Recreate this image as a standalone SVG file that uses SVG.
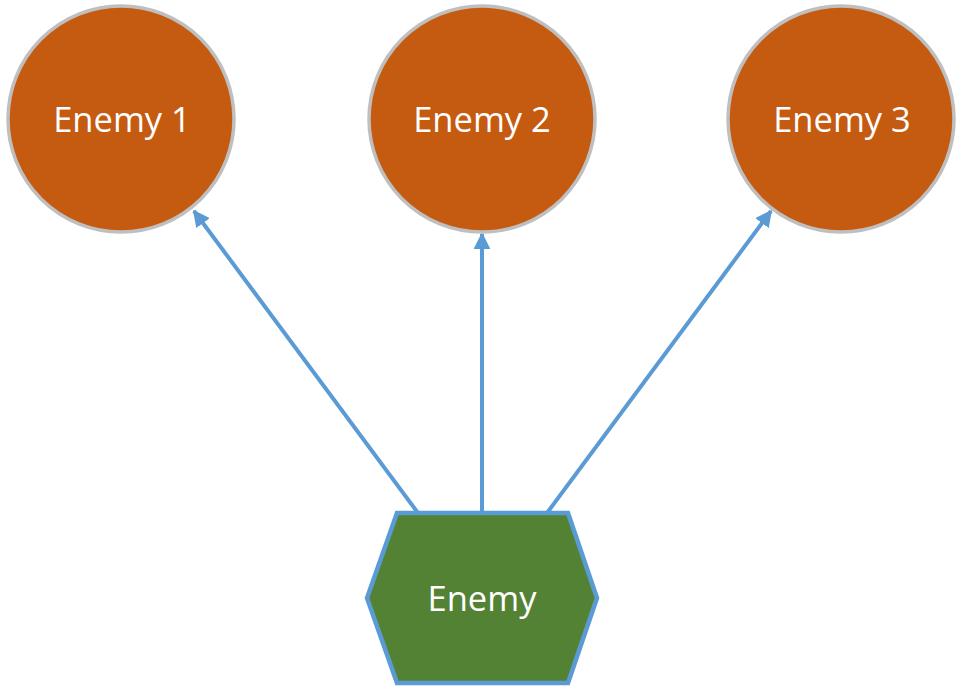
<svg xmlns="http://www.w3.org/2000/svg" width="966" height="696" viewBox="0 0 966 696">
<style>
.enemy{fill:#C55A11;stroke:#BFBFBF;stroke-width:3.5}
.hex{fill:#548235;stroke:#5B9BD5;stroke-width:4.5;stroke-linejoin:miter}
.lbl{font-family:"Open Sans","Liberation Sans",sans-serif;font-size:34.5px;fill:#FFFFFF;text-anchor:middle}
.conn{stroke:#5B9BD5;stroke-width:4;fill:none;marker-end:url(#arr)}
</style>
<defs>
<marker id="arr" viewBox="0 0 10 10" refX="9" refY="5" markerWidth="4.2" markerHeight="4.2" orient="auto" markerUnits="strokeWidth">
<path d="M0,0 L10,5 L0,10 z" fill="#5B9BD5"/>
</marker>
</defs>
<rect width="966" height="696" fill="#FFFFFF"/>
<g id="connectors">
<line class="conn" x1="418" y1="513" x2="194" y2="211"/>
<line class="conn" x1="482" y1="513" x2="482" y2="234"/>
<line class="conn" x1="547" y1="513" x2="771" y2="211"/>
</g>
<g id="enemy1">
<circle class="enemy" cx="121" cy="119" r="113"/>
<text class="lbl" x="122" y="132">Enemy 1</text>
</g>
<g id="enemy2">
<circle class="enemy" cx="482" cy="119" r="113"/>
<text class="lbl" x="482" y="132">Enemy 2</text>
</g>
<g id="enemy3">
<circle class="enemy" cx="841" cy="119" r="113"/>
<text class="lbl" x="842" y="132">Enemy 3</text>
</g>
<g id="enemy">
<polygon class="hex" points="397,513 568,513 597,598 568,683 397,683 367,598"/>
<text class="lbl" x="482" y="611">Enemy</text>
</g>
</svg>
